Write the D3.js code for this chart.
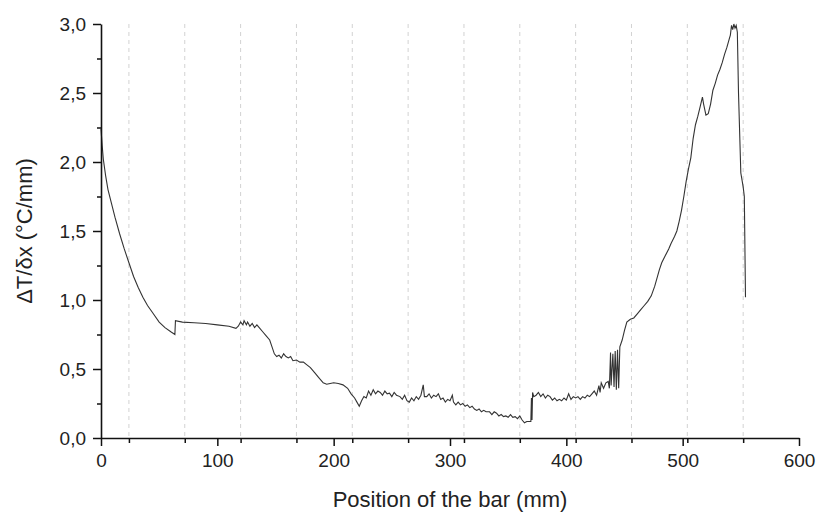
<!DOCTYPE html>
<html>
<head>
<meta charset="utf-8">
<script src="https://cdn.jsdelivr.net/npm/d3@7"></script>
<style>
  body { margin: 0; background: #fff; }
  text { font-family: "Liberation Sans", Arial, sans-serif; fill: #222; }
</style>
</head>
<body>
<div id="chart"></div>
<script>
// position along the bar (mm)
var positions = [0, 1, 2, 4, 6, 9, 12, 16, 20, 24, 28, 32, 36, 40, 45, 50, 55, 60, 63.5, 64,
  70, 80, 90, 100, 110, 116, 118, 120, 122, 123, 125, 126, 128, 130, 132, 134, 136, 139, 142, 145,
  147, 149, 151, 153, 155, 157, 159, 161, 163, 165, 168, 171, 174, 177, 180, 184, 187, 191, 194, 197,
  200, 204, 208, 212, 215, 218, 220, 222, 224, 226, 228, 230, 232, 234, 236, 238, 240, 242, 244, 246,
  248, 250, 252, 254, 257, 259, 261, 263, 265, 267, 269, 271, 273, 275, 277, 278, 280, 282, 284, 286,
  288, 290, 292, 294, 296, 298, 300, 302, 303, 305, 307, 309, 311, 313, 315, 317, 319, 321, 323, 325,
  327, 329, 331, 334, 336, 338, 340, 342, 344, 346, 348, 350, 352, 354, 356, 358, 360, 362, 364, 366,
  368, 369.5, 370, 370.5, 371, 372, 374, 376, 378, 380, 382, 384, 386, 388, 390, 392, 394, 396, 398, 400,
  402, 404, 406, 408, 410, 412, 414, 416, 418, 420, 422, 424, 426, 428, 429, 430, 432, 434, 436, 437,
  438, 438.5, 440, 441, 442, 443, 444, 445, 446, 448, 450, 452, 455, 458, 461, 464, 467, 470, 473, 476,
  478, 480, 482, 485, 488, 490, 493, 495, 497, 499, 501, 503, 505, 507, 509, 511, 513, 515, 517, 518,
  520, 522, 524, 526, 528, 530, 532, 534, 536, 538, 540, 541, 542, 543, 544, 545, 546, 547, 548, 550,
  552, 553, 554];

// temperature gradient (°C/mm)
var gradient = [2.24, 2.12, 2.02, 1.90, 1.80, 1.70, 1.60, 1.48, 1.37, 1.27, 1.17, 1.09, 1.02, 0.96, 0.90, 0.84, 0.80, 0.77, 0.75, 0.85,
  0.84, 0.835, 0.83, 0.82, 0.81, 0.795, 0.81, 0.84, 0.82, 0.85, 0.82, 0.84, 0.81, 0.83, 0.80, 0.82, 0.80, 0.77, 0.74, 0.71,
  0.66, 0.61, 0.59, 0.60, 0.58, 0.61, 0.59, 0.58, 0.59, 0.56, 0.565, 0.55, 0.55, 0.53, 0.51, 0.47, 0.44, 0.40, 0.39, 0.395,
  0.40, 0.395, 0.385, 0.36, 0.32, 0.29, 0.26, 0.23, 0.27, 0.30, 0.29, 0.34, 0.31, 0.35, 0.32, 0.34, 0.33, 0.31, 0.34, 0.32,
  0.325, 0.30, 0.33, 0.31, 0.30, 0.28, 0.31, 0.27, 0.26, 0.29, 0.27, 0.30, 0.28, 0.31, 0.385, 0.30, 0.30, 0.32, 0.29, 0.31,
  0.30, 0.32, 0.28, 0.29, 0.26, 0.28, 0.27, 0.31, 0.26, 0.24, 0.26, 0.24, 0.25, 0.23, 0.24, 0.22, 0.23, 0.21, 0.20, 0.21,
  0.19, 0.20, 0.19, 0.19, 0.17, 0.19, 0.18, 0.16, 0.17, 0.155, 0.16, 0.15, 0.17, 0.15, 0.155, 0.14, 0.16, 0.13, 0.11, 0.12,
  0.12, 0.12, 0.29, 0.13, 0.33, 0.30, 0.31, 0.33, 0.30, 0.32, 0.29, 0.31, 0.30, 0.275, 0.29, 0.27, 0.28, 0.27, 0.29, 0.275,
  0.32, 0.28, 0.30, 0.29, 0.30, 0.28, 0.30, 0.29, 0.31, 0.30, 0.32, 0.34, 0.31, 0.38, 0.33, 0.40, 0.36, 0.40, 0.41, 0.36,
  0.62, 0.38, 0.61, 0.37, 0.63, 0.35, 0.64, 0.36, 0.66, 0.71, 0.78, 0.84, 0.86, 0.87, 0.90, 0.93, 0.96, 0.99, 1.03, 1.10,
  1.16, 1.22, 1.27, 1.32, 1.37, 1.41, 1.46, 1.50, 1.57, 1.65, 1.75, 1.86, 1.95, 2.03, 2.17, 2.27, 2.33, 2.40, 2.47, 2.42,
  2.34, 2.35, 2.42, 2.52, 2.57, 2.63, 2.67, 2.72, 2.78, 2.83, 2.89, 2.92, 2.99, 2.96, 3.00, 2.97, 2.99, 2.94, 2.50, 1.92,
  1.82, 1.75, 1.02];

// thermocouple positions (dashed guide lines)
var sensors = [24, 72, 120, 168, 216, 264, 312, 360, 408, 456, 504, 552];

var xTicks = [0, 100, 200, 300, 400, 500, 600];
var yTicks = [0, 0.5, 1, 1.5, 2, 2.5, 3];
var yMinor = [0.25, 0.75, 1.25, 1.75, 2.25, 2.75];

var margin = {top: 24, right: 19, bottom: 74, left: 101}
  , width = 818 - margin.left - margin.right
  , height = 512 - margin.top - margin.bottom;

var x = d3.scaleLinear().domain([0, 600]).range([0, width]);
var y = d3.scaleLinear().domain([0, 3]).range([height, 0]);

var comma = function(d) { return d3.format(".1f")(d).replace(".", ","); };

var svg = d3.select('#chart').append('svg')
  .attr('width', 818)
  .attr('height', 512);

var main = svg.append('g')
  .attr('transform', 'translate(' + margin.left + ',' + margin.top + ')');

// dashed lines at the sensor positions
main.selectAll('.sensor')
  .data(sensors)
  .enter().append('line')
    .attr('x1', function(d) { return x(d); })
    .attr('x2', function(d) { return x(d); })
    .attr('y1', 0)
    .attr('y2', height)
    .style('stroke', '#d2d2d2')
    .style('stroke-width', 1)
    .style('stroke-dasharray', '4,4');

// the curve
var line = d3.line()
  .x(function(d) { return x(d[0]); })
  .y(function(d) { return y(d[1]); });

main.append('path')
  .datum(d3.zip(positions, gradient))
  .attr('d', line)
  .style('fill', 'none')
  .style('stroke', '#333')
  .style('stroke-width', 1.1);

// x axis
main.append('g')
  .attr('transform', 'translate(0,' + height + ')')
  .call(d3.axisBottom(x).tickValues(xTicks).tickSize(8).tickPadding(8).tickSizeOuter(0));

main.append('g')
  .attr('transform', 'translate(0,' + height + ')')
  .call(d3.axisBottom(x).tickValues(sensors).tickSize(5).tickFormat('').tickSizeOuter(0))
  .call(function(g) { g.select('.domain').remove(); });

// y axis
main.append('g')
  .call(d3.axisLeft(y).tickValues(yTicks).tickFormat(comma).tickSize(8).tickPadding(7).tickSizeOuter(0));

main.append('g')
  .call(d3.axisLeft(y).tickValues(yMinor).tickSize(4).tickFormat('').tickSizeOuter(0))
  .call(function(g) { g.select('.domain').remove(); });

svg.selectAll('.domain').style('stroke', '#111').style('stroke-width', 1.6);
svg.selectAll('.tick line').style('stroke', '#111').style('stroke-width', 1.5);
svg.selectAll('.tick text')
  .style('font-family', '"Liberation Sans", Arial, sans-serif')
  .style('font-size', '19px')
  .style('fill', '#222');

// axis titles
main.append('text')
  .attr('x', width / 2)
  .attr('y', height + 69)
  .style('text-anchor', 'middle')
  .style('font-size', '22px')
  .text('Position of the bar (mm)');

main.append('text')
  .attr('transform', 'rotate(-90)')
  .attr('x', -height / 2)
  .attr('y', -margin.left + 32)
  .style('text-anchor', 'middle')
  .style('font-size', '22px')
  .text('ΔT/δx (°C/mm)');
</script>
</body>
</html>
